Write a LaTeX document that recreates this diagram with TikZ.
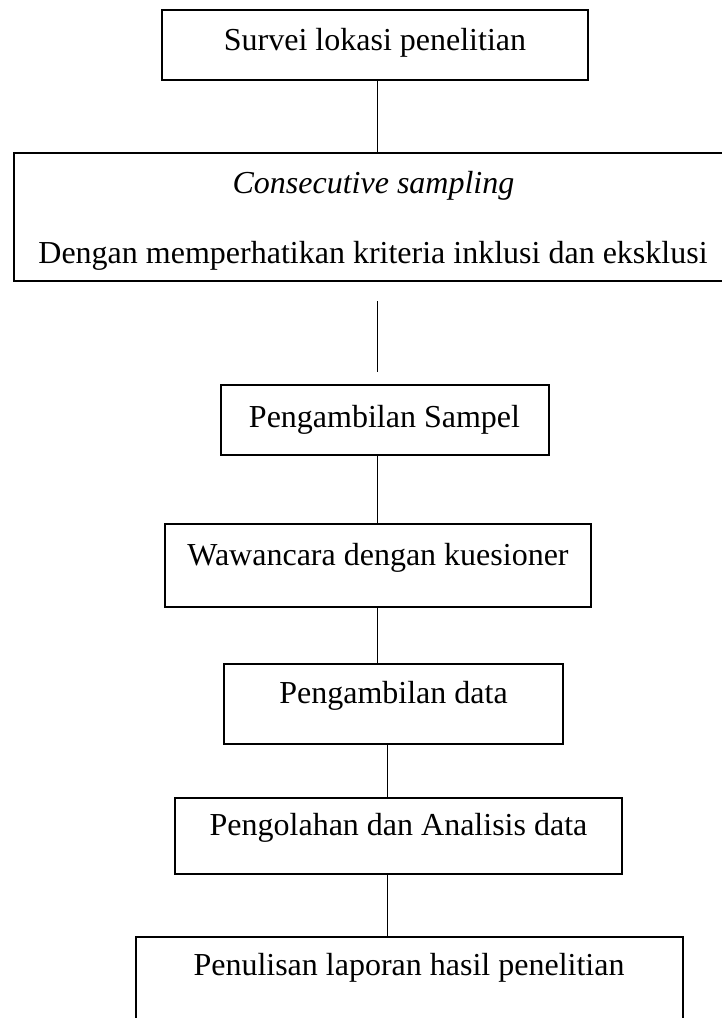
\documentclass[tikz,border=0pt]{standalone}
\usepackage{fontspec}
\setmainfont{Liberation Serif}
\begin{document}
\begin{tikzpicture}[x=1pt,y=-1pt,
  boxnode/.style={draw=black, line width=1.2pt, inner sep=0pt, outer sep=0pt, rectangle},
  lbl/.style={anchor=base, inner sep=0pt, font=\fontsize{32}{38}\selectfont},
  conn/.style={draw=black, line width=1pt}]
\useasboundingbox (0,0) rectangle (721,1018);
\fill[white] (0,0) rectangle (721,1018);
% boxes: minimum width/height from measured edges
\node[boxnode, minimum width=426pt, minimum height=70pt] (b1) at (375,45) {};
\node[boxnode, minimum width=736pt, minimum height=128pt] (b2) at (382,217) {};
\node[boxnode, minimum width=328pt, minimum height=70pt] (b3) at (385,420) {};
\node[boxnode, minimum width=426pt, minimum height=83pt] (b4) at (378,565.5) {};
\node[boxnode, minimum width=339pt, minimum height=80pt] (b5) at (393.5,704) {};
\node[boxnode, minimum width=447pt, minimum height=76pt] (b6) at (398.5,836) {};
\node[boxnode, minimum width=547pt, minimum height=110pt] (b7) at (409.5,992) {};
% texts
\node[lbl] (t1) at (375,50) {Survei lokasi penelitian};
\node[lbl] (t2a) at (373.5,193) {\itshape Consecutive sampling};
\node[lbl] (t2b) at (373,263) {Dengan memperhatikan kriteria inklusi dan eksklusi};
\node[lbl] (t3) at (384.5,427) {Pengambilan Sampel};
\node[lbl] (t4) at (378,565) {Wawancara dengan kuesioner};
\node[lbl] (t5) at (393.5,703) {Pengambilan data};
\node[lbl] (t6) at (398.5,835) {Pengolahan dan Analisis data};
\node[lbl] (t7) at (409,975) {Penulisan laporan hasil penelitian};
% connector x positions
\coordinate (ca) at (377,0);
\coordinate (cb) at (387,0);
\coordinate (g1) at (377,301);
\coordinate (g2) at (377,372);
\draw[conn] (b1.south -| ca) -- (b2.north -| ca);
\draw[conn] (g1) -- (g2);
\draw[conn] (b3.south -| ca) -- (b4.north -| ca);
\draw[conn] (b4.south -| ca) -- (b5.north -| ca);
\draw[conn] (b5.south -| cb) -- (b6.north -| cb);
\draw[conn] (b6.south -| cb) -- (b7.north -| cb);
\end{tikzpicture}
\end{document}
